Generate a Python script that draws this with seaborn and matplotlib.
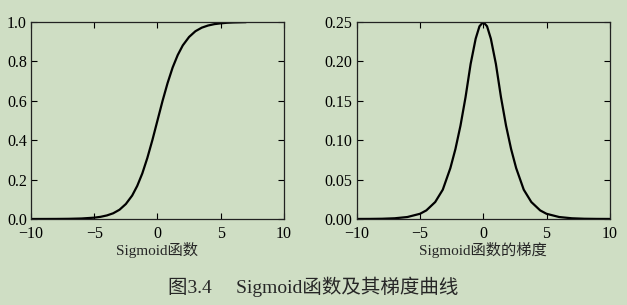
import matplotlib
matplotlib.use("Agg")
import matplotlib.pyplot as plt
import seaborn as sns
import pandas as pd

# Sigmoid curve
sig_x = [-10, -9, -8, -7, -6, -5, -4.5, -4, -3.5, -3, -2.5, -2, -1.6, -1.2, -0.8, -0.4, 0,
         0.4, 0.8, 1.2, 1.6, 2, 2.5, 3, 3.5, 4, 4.5, 5, 5.5, 6, 7]
sig_y = [0.0000, 0.0001, 0.0003, 0.0009, 0.0025, 0.0067, 0.011, 0.018, 0.029, 0.047,
         0.076, 0.119, 0.168, 0.231, 0.310, 0.401, 0.500, 0.599, 0.690, 0.769,
         0.832, 0.881, 0.924, 0.953, 0.971, 0.982, 0.989, 0.993, 0.996, 0.9975, 0.9991]

# Sigmoid gradient curve
grad_x = [-10, -9, -8, -7, -6, -5, -4.5, -3.8, -3.2, -2.6, -2.2, -1.8, -1.4, -1, -0.6, -0.3, 0,
          0.3, 0.6, 1, 1.4, 1.8, 2.2, 2.6, 3.2, 3.8, 4.5, 5, 6, 7, 8, 9, 10]
grad_y = [0.00005, 0.0001, 0.0003, 0.0009, 0.0025, 0.0066, 0.0109, 0.0215, 0.0372,
          0.0646, 0.0888, 0.1185, 0.1546, 0.1966, 0.2288, 0.2445, 0.250, 0.2445, 0.2288,
          0.1966, 0.1546, 0.1185, 0.0888, 0.0646, 0.0372, 0.0215, 0.0109, 0.0066,
          0.0025, 0.0009, 0.0003, 0.0001, 0.00005]

x_ticks = [-10, -5, 0, 5, 10]
sig_yticks = [0.0, 0.2, 0.4, 0.6, 0.8, 1.0]
grad_yticks = [0.00, 0.05, 0.10, 0.15, 0.20, 0.25]
xlabel_left = "Sigmoid函数"
xlabel_right = "Sigmoid函数的梯度"
caption = "图3.4\u2003 Sigmoid函数及其梯度曲线"

sns.set_style("ticks")
bg = "#cfdec4"
plt.rcParams['font.family'] = ['Liberation Serif', 'Noto Sans CJK SC']
plt.rcParams['axes.unicode_minus'] = True

fig = plt.figure(figsize=(6.27, 3.05), dpi=100, facecolor=bg)
ax1 = fig.add_axes([0.0494, 0.282, 0.4035, 0.646])
ax2 = fig.add_axes([0.569, 0.282, 0.4035, 0.646])

df1 = pd.DataFrame({"x": sig_x, "y": sig_y})
df2 = pd.DataFrame({"x": grad_x, "y": grad_y})
sns.lineplot(data=df1, x="x", y="y", ax=ax1, color="black", linewidth=1.6)
sns.lineplot(data=df2, x="x", y="y", ax=ax2, color="black", linewidth=1.6)

for ax, yt, fmt, xl in [(ax1, sig_yticks, "{:.1f}", xlabel_left),
                        (ax2, grad_yticks, "{:.2f}", xlabel_right)]:
    ax.set_facecolor(bg)
    ax.set_xlim(-10, 10)
    ax.set_ylim(yt[0], yt[-1])
    ax.set_xticks(x_ticks)
    ax.set_xticklabels([("\u2212" if v < 0 else "") + str(abs(v)) for v in x_ticks])
    ax.set_yticks(yt)
    ax.set_yticklabels([fmt.format(v) for v in yt])
    ax.tick_params(direction="in", top=True, right=True, length=4, width=0.8,
                   labelsize=11.5, colors="black")
    ax.tick_params(axis="x", pad=5)
    ax.tick_params(axis="y", pad=3)
    for s in ax.spines.values():
        s.set_visible(True)
        s.set_linewidth(0.9)
        s.set_color("#222222")
    ax.set_xlabel(xl, fontsize=11, labelpad=0)
    ax.set_ylabel("")

fig.text(0.5, 0.06, caption, ha="center", va="center", fontsize=14)
fig.savefig("out.png", dpi=100, facecolor=bg)
